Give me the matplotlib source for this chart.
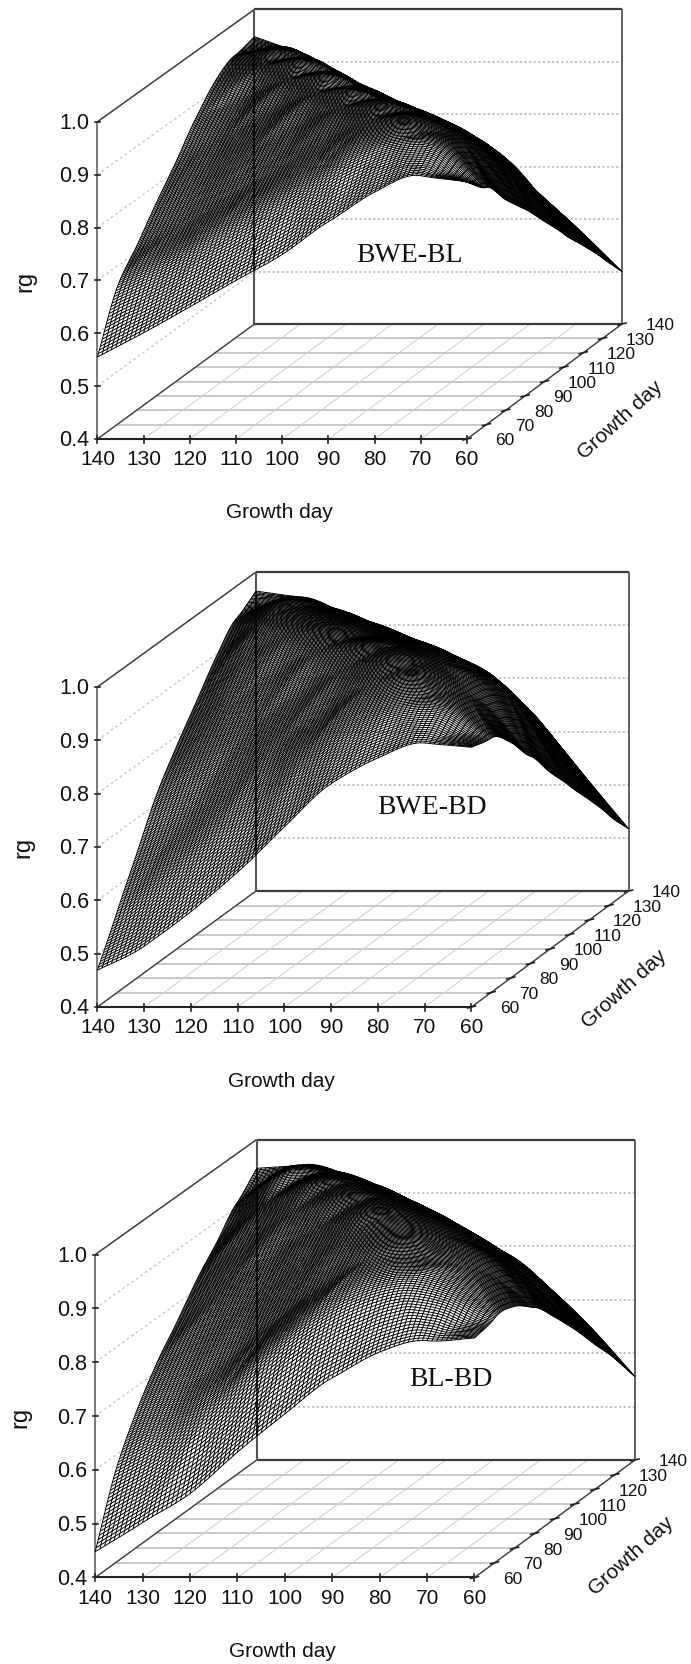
import numpy as np
import matplotlib
matplotlib.use('Agg')
import matplotlib.pyplot as plt
import matplotlib.tri as mtri
from matplotlib.collections import LineCollection

plt.rcParams['font.family'] = ['Liberation Sans', 'DejaVu Sans']

# growth days on both floor axes, and the rg ticks
days = [60, 70, 80, 90, 100, 110, 120, 130, 140]
rg_ticks = [0.4, 0.5, 0.6, 0.7, 0.8, 0.9, 1.0]

# rg at 10 day steps
# rows: right hand axis day 60..140, columns: front axis day 60..140
rg_bwe_bl = [
    [.887, .898, .867, .811, .749, .700, .650, .601, .555],
    [.849, .930, .935, .905, .850, .800, .750, .700, .659],
    [.799, .915, .955, .945, .905, .855, .805, .755, .711],
    [.754, .880, .930, .960, .945, .905, .860, .810, .766],
    [.704, .830, .885, .925, .960, .945, .905, .860, .817],
    [.653, .775, .840, .880, .914, .960, .945, .905, .872],
    [.604, .705, .785, .840, .874, .917, .960, .945, .917],
    [.553, .645, .720, .790, .833, .863, .919, .955, .939],
    [.500, .585, .660, .738, .790, .823, .866, .918, .948],
]
rg_bwe_bd = [
    [.887, .895, .867, .819, .738, .653, .579, .514, .469],
    [.877, .935, .935, .900, .840, .760, .690, .620, .552],
    [.842, .935, .965, .950, .900, .840, .770, .700, .635],
    [.789, .925, .965, .975, .950, .900, .840, .780, .718],
    [.732, .891, .948, .970, .975, .955, .905, .845, .781],
    [.679, .832, .900, .944, .960, .975, .960, .910, .838],
    [.626, .765, .848, .900, .934, .965, .975, .960, .895],
    [.570, .694, .790, .855, .894, .926, .960, .975, .939],
    [.517, .622, .725, .803, .854, .885, .918, .953, .964],
]
rg_bl_bd = [
    [.845, .840, .819, .771, .704, .633, .556, .502, .448],
    [.855, .900, .915, .890, .840, .770, .690, .620, .569],
    [.850, .920, .945, .940, .895, .830, .760, .700, .650],
    [.821, .915, .955, .965, .945, .890, .825, .765, .713],
    [.776, .880, .940, .970, .975, .940, .885, .825, .763],
    [.726, .840, .894, .946, .975, .975, .940, .880, .816],
    [.671, .779, .843, .900, .944, .975, .975, .930, .860],
    [.617, .715, .794, .850, .898, .938, .967, .970, .907],
    [.556, .654, .736, .798, .852, .896, .931, .953, .946],
]

# box corners in pixels, front then back wall, and where the texts go
panels = [
    dict(name='BWE-BL', rg=rg_bwe_bl, x0=97.4, x1=467.0, bx0=254.5, bx1=622.0,
         y0=440.0, ytop=122.8, by0=325.0, bytop=10.4,
         name_xy=(409.5, 256), ylab_xy=(25.7, 281), xlab_xy=(279, 513), zlab_xy=(620, 420)),
    dict(name='BWE-BD', rg=rg_bwe_bd, x0=97.4, x1=471.5, bx0=256.0, bx1=628.6,
         y0=1008.0, ytop=688.0, by0=892.0, bytop=573.0,
         name_xy=(431.6, 808), ylab_xy=(23, 847), xlab_xy=(281, 1082), zlab_xy=(624, 989)),
    dict(name='BL-BD', rg=rg_bl_bd, x0=95.2, x1=474.5, bx0=256.7, bx1=635.0,
         y0=1578.5, ytop=1255.6, by0=1461.0, bytop=1140.5,
         name_xy=(450.6, 1380), ylab_xy=(20, 1417), xlab_xy=(282.4, 1652), zlab_xy=(631, 1556)),
]


def project(p, xday, yday, rg):
    # oblique box: front axis runs 140 -> 60, side axis runs 60 -> 140 going back
    u = (140.0 - np.asarray(xday, dtype=float)) / 80.0
    v = (np.asarray(yday, dtype=float) - 60.0) / 80.0
    w = (np.asarray(rg, dtype=float) - 0.4) / 0.6
    left = p['x0'] + v * (p['bx0'] - p['x0'])
    right = p['x1'] + v * (p['bx1'] - p['x1'])
    base = p['y0'] + v * (p['by0'] - p['y0'])
    height = (p['y0'] - p['ytop']) + v * ((p['by0'] - p['bytop']) - (p['y0'] - p['ytop']))
    return left + u * (right - left), base - w * height


def seg(p, a, b, **kw):
    xa, ya = project(p, *a)
    xb, yb = project(p, *b)
    ax.plot([xa, xb], [ya, yb], solid_capstyle='butt', **kw)


def draw_box(p):
    dark = '#3c3c3c'
    # floor grid
    for d in days:
        seg(p, (140, d, .4), (60, d, .4), color='#c4c4c4', lw=1.3, zorder=1)
        seg(p, (d, 60, .4), (d, 140, .4), color='#d2d2d2', lw=0.8, zorder=1)
    # dotted rg lines on both walls
    for t in rg_ticks[1:-1]:
        seg(p, (140, 60, t), (140, 140, t), color='#c8c8c8', lw=1.0, ls=(0, (2, 2)), zorder=1)
    for t in rg_ticks[1:]:
        seg(p, (140, 140, t), (60, 140, t), color='#b4b4b4', lw=1.1, ls=(0, (1.5, 1.5)), zorder=1)
    # box outline
    seg(p, (140, 60, .4), (140, 60, 1.0), color='#555555', lw=1.1, zorder=2)
    seg(p, (140, 60, 1.0), (140, 140, 1.0), color=dark, lw=1.1, zorder=2)
    seg(p, (140, 60, .4), (140, 140, .4), color=dark, lw=1.0, zorder=2)
    seg(p, (60, 60, .4), (60, 140, .4), color=dark, lw=1.0, zorder=2)
    seg(p, (140, 60, .4), (60, 60, .4), color='#222222', lw=1.5, zorder=2)
    seg(p, (140, 140, .4), (60, 140, .4), color=dark, lw=1.6, zorder=2)
    seg(p, (140, 140, 1.0), (60, 140, 1.0), color=dark, lw=1.6, zorder=2)
    seg(p, (60, 140, .4), (60, 140, 1.0), color='#555555', lw=1.3, zorder=2)
    seg(p, (140, 140, .4), (140, 140, 1.0), color='#555555', lw=1.5, zorder=2)


def draw_surface(p):
    # smooth sheet through the read values, drawn as a fine wire mesh
    gx, gy = np.meshgrid(days, days)
    tri = mtri.Triangulation(gx.ravel().astype(float), gy.ravel().astype(float))
    interp = mtri.CubicTriInterpolator(tri, np.array(p['rg']).ravel(), kind='geom')
    fine_x = np.arange(60.0, 140.5, 1.0)
    fine_y = np.arange(60.0, 140.25, 0.5)
    fx, fy = np.meshgrid(fine_x, fine_y)
    fz = interp(fx, fy).filled(0.4)
    sx, sy = project(p, fx, fy, fz)
    lines = [np.column_stack([sx[i], sy[i]]) for i in range(len(fine_y))]
    lines += [np.column_stack([sx[:, j], sy[:, j]]) for j in range(len(fine_x))]
    ax.add_collection(LineCollection(lines, colors='black', linewidths=0.68, zorder=3))
    # the wall corner shows through the sheet, down to the lower edge of the sheet
    xc, yc = project(p, 140, 140, p['rg'][-1][-1])
    low = np.interp(xc, sx[0][::-1], sy[0][::-1])
    ax.plot([xc, xc], [yc, low], color='black', lw=1.1, ls=(0, (2, 1)), zorder=4)


def draw_text(p):
    tc = '#111111'
    # rg ticks, left
    for t in rg_ticks:
        x, y = project(p, 140, 60, t)
        ax.plot([x - 2, x + 3], [y, y], color='#222222', lw=1.2, zorder=5)
        ax.text(x - 8, y + 1, '%.1f' % t, ha='right', va='center', fontsize=15.5, color=tc)
    # front axis
    for d in days:
        x, y = project(p, d, 60, .4)
        ax.plot([x, x], [y - 3.5, y + 3.5], color='#222222', lw=1.2, zorder=5)
        ax.text(x, y + 20, str(d), ha='center', va='center', fontsize=15, color=tc)
    # side axis
    for d in days:
        x, y = project(p, 60, d, .4)
        ax.plot([x - 4, x + 4], [y + 1, y - 1], color='#222222', lw=1.2, zorder=5)
        ax.text(x + 38, y + 1, str(d), ha='center', va='center', fontsize=12.5, color=tc)
    ax.text(*p['xlab_xy'], 'Growth day', ha='center', va='center', fontsize=15, color=tc)
    ax.text(*p['zlab_xy'], 'Growth day', ha='center', va='center', fontsize=15, rotation=42, color=tc)
    ax.text(*p['ylab_xy'], 'rg', ha='center', va='center', fontsize=17, rotation=90, color=tc)
    ax.text(*p['name_xy'], p['name'], ha='center', va='center', fontsize=20,
            family=['Liberation Serif', 'DejaVu Serif'], color='#111111', zorder=6)


fig = plt.figure(figsize=(6.91, 16.65), dpi=100)
ax = fig.add_axes([0, 0, 1, 1])
ax.set_xlim(0, 691)
ax.set_ylim(1665, 0)
ax.axis('off')

for p in panels:
    draw_box(p)
    draw_surface(p)
    draw_text(p)

fig.savefig('out.png', dpi=100)
